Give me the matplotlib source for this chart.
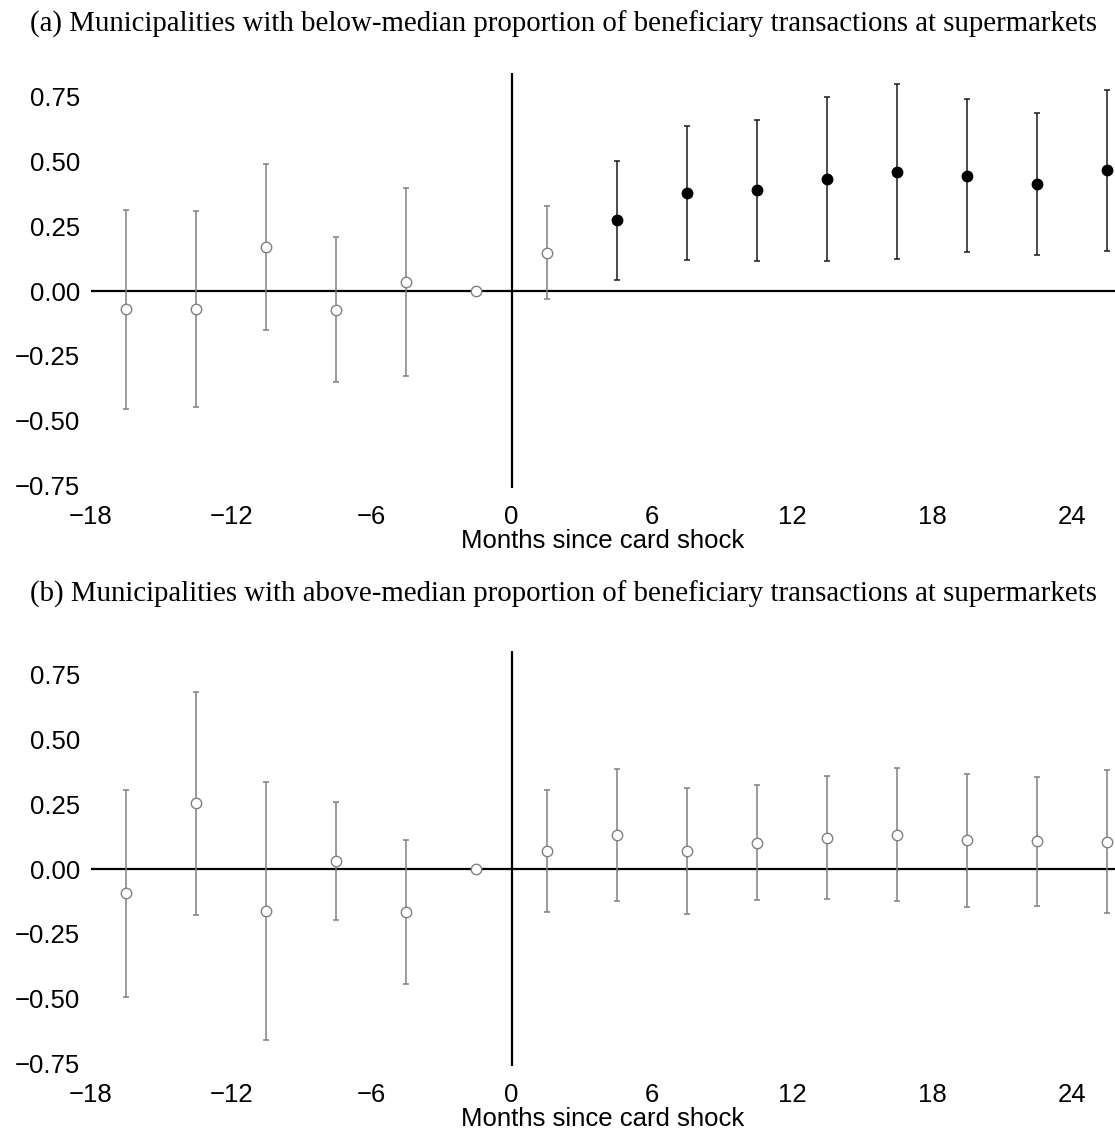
"""Event-study coefficients around the card shock, split by supermarket share."""

import matplotlib
matplotlib.use("Agg")
import matplotlib.pyplot as plt

# Quarter bins plotted at their midpoint, in months since the shock
months = [-16.5, -13.5, -10.5, -7.5, -4.5, -1.5, 1.5, 4.5, 7.5,
          10.5, 13.5, 16.5, 19.5, 22.5, 25.5]

# (a) below-median supermarket share
coef_a = [-0.070, -0.070, 0.170, -0.072, 0.035, 0.0, 0.148, 0.273, 0.377,
          0.389, 0.432, 0.461, 0.444, 0.413, 0.466]
lo_a = [-0.454, -0.447, -0.152, -0.353, -0.327, 0.0, -0.032, 0.044, 0.120,
        0.117, 0.115, 0.124, 0.149, 0.138, 0.156]
hi_a = [0.314, 0.308, 0.490, 0.208, 0.398, 0.0, 0.328, 0.503, 0.636,
        0.660, 0.750, 0.798, 0.740, 0.689, 0.776]

# (b) above-median supermarket share
coef_b = [-0.094, 0.254, -0.162, 0.031, -0.166, 0.0, 0.070, 0.130, 0.070,
          0.100, 0.121, 0.133, 0.111, 0.107, 0.106]
lo_b = [-0.493, -0.178, -0.659, -0.196, -0.444, 0.0, -0.165, -0.124, -0.172,
        -0.121, -0.116, -0.122, -0.145, -0.143, -0.170]
hi_b = [0.305, 0.685, 0.335, 0.257, 0.112, 0.0, 0.304, 0.385, 0.313,
        0.323, 0.359, 0.389, 0.367, 0.355, 0.381]

x_ticks = [-18, -12, -6, 0, 6, 12, 18, 24]
y_ticks = [-0.75, -0.50, -0.25, 0.0, 0.25, 0.50, 0.75]

titles = [
    "(a) Municipalities with below-median proportion of beneficiary transactions at supermarkets",
    "(b) Municipalities with above-median proportion of beneficiary transactions at supermarkets",
]

GREY = "#808080"
DARK = "#1a1a1a"

plt.rcParams["font.family"] = ["Liberation Sans", "DejaVu Sans"]
plt.rcParams["axes.unicode_minus"] = True


def _panel(ax, coef, lo, hi):
    ax.axhline(0, color="black", lw=1.6, zorder=1)
    ax.axvline(0, color="black", lw=1.6, zorder=1)
    for m, c, l, h in zip(months, coef, lo, hi):
        sig = l > 0 or h < 0
        col = DARK if sig else GREY
        # the omitted period has no interval
        if h > l:
            ax.errorbar([m], [c], yerr=[[c - l], [h - c]], fmt="none",
                        ecolor=col, elinewidth=1.1, capsize=2.5,
                        capthick=1.1, zorder=2)
        if sig:
            ax.plot(m, c, "o", ms=7.5, color="black", zorder=3)
        else:
            ax.plot(m, c, "o", ms=7.5, mfc="white", mec=GREY, mew=1.0, zorder=3)

    ax.set_xlim(-18, 25.83)
    ax.set_ylim(-0.76, 0.84)
    ax.set_xticks(x_ticks)
    ax.set_yticks(y_ticks)
    ax.set_yticklabels([f"{v:.2f}".replace("-", "\u2212") for v in y_ticks])
    ax.tick_params(length=0, labelsize=18.5)
    ax.tick_params(axis="x", pad=12)
    ax.tick_params(axis="y", pad=8)
    for s in ax.spines.values():
        s.set_visible(False)
    ax.set_xlabel("Months since card shock", fontsize=18.5, labelpad=0)


fig = plt.figure(figsize=(11.15, 11.34), dpi=100)
ax_a = fig.add_axes([0.0816, 0.5698, 0.9184, 0.3654])
ax_b = fig.add_axes([0.0816, 0.0601, 0.9184, 0.3654])
_panel(ax_a, coef_a, lo_a, hi_a)
_panel(ax_b, coef_b, lo_b, hi_b)

fig.text(0.505, 1 - 24 / 1134, titles[0], ha="center", va="center",
         fontsize=20.8, family="Liberation Serif")
fig.text(0.505, 1 - 594 / 1134, titles[1], ha="center", va="center",
         fontsize=20.8, family="Liberation Serif")

fig.savefig("out.png", dpi=100)
